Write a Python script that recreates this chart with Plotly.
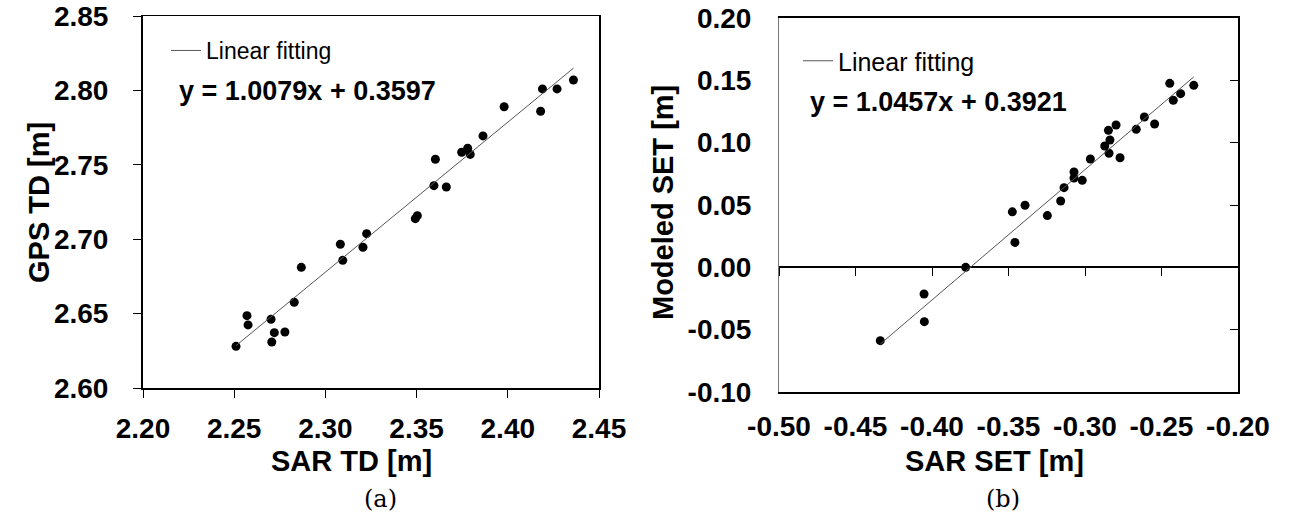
import plotly.graph_objects as go

# ---------------- data (a) ----------------
sar_td = [2.251, 2.2570, 2.2576, 2.2702, 2.2706, 2.2720, 2.2778, 2.2829, 2.2868,
          2.3082, 2.3095, 2.3206, 2.3226, 2.3493, 2.3504, 2.3595, 2.3603, 2.3663,
          2.3747, 2.3780, 2.3794, 2.3864, 2.3980, 2.4180, 2.4190, 2.4270, 2.4360]
gps_td = [2.628, 2.6486, 2.6424, 2.6462, 2.6309, 2.6372, 2.6376, 2.6576, 2.6811,
          2.6966, 2.6858, 2.6946, 2.7037, 2.7138, 2.7158, 2.7360, 2.7537, 2.7351,
          2.7584, 2.7611, 2.7570, 2.7694, 2.7890, 2.7860, 2.8010, 2.8010, 2.8070]
td_slope, td_intercept = 1.0079, 0.3597
td_xticks = [2.20, 2.25, 2.30, 2.35, 2.40, 2.45]
td_xtext = ["2.20", "2.25", "2.30", "2.35", "2.40", "2.45"]
td_yticks = [2.60, 2.65, 2.70, 2.75, 2.80, 2.85]
td_ytext = ["2.60", "2.65", "2.70", "2.75", "2.80", "2.85"]

# ---------------- data (b) ----------------
sar_set = [-0.4338, -0.4052, -0.4050, -0.3780, -0.3475, -0.3458, -0.3392, -0.3246,
           -0.3159, -0.3137, -0.3072, -0.3072, -0.3018, -0.2965, -0.2871, -0.2847,
           -0.2843, -0.2837, -0.2797, -0.2771, -0.2665, -0.2612, -0.2545, -0.2446,
           -0.2423, -0.2375, -0.2289]
model_set = [-0.0588, -0.0214, -0.0436, 0.0000, 0.0445, 0.0200, 0.0498, 0.0415,
             0.0532, 0.0639, 0.0765, 0.0717, 0.0698, 0.0869, 0.0973, 0.1099,
             0.0915, 0.1021, 0.1142, 0.0879, 0.1107, 0.1206, 0.1150, 0.1476,
             0.1340, 0.1393, 0.1460]
set_slope, set_intercept = 1.0457, 0.3921
set_xticks = [-0.50, -0.45, -0.40, -0.35, -0.30, -0.25, -0.20]
set_xtext = ["-0.50", "-0.45", "-0.40", "-0.35", "-0.30", "-0.25", "-0.20"]
set_yticks = [-0.10, -0.05, 0.00, 0.05, 0.10, 0.15, 0.20]
set_ytext = ["-0.10", "-0.05", "0.00", "0.05", "0.10", "0.15", "0.20"]

W, H = 1298, 527
def px(x): return x / W
def py(y): return 1 - y / H

BOLD = dict(family="Liberation Sans, Arial, sans-serif", size=28, color="black", weight="bold")
TITLE = dict(family="Liberation Sans, Arial, sans-serif", size=29, color="black", weight="bold")
EQ = dict(family="Liberation Sans, Arial, sans-serif", size=27, color="black", weight="bold")

fig = go.Figure()

# (a) points on main axes, fit line on overlay axes (which draw top/right borders)
fig.add_trace(go.Scatter(x=sar_td, y=gps_td, mode="markers",
                         marker=dict(color="black", size=9), showlegend=False,
                         xaxis="x", yaxis="y"))
tx = [min(sar_td), max(sar_td)]
fig.add_trace(go.Scatter(x=tx, y=[td_slope * v + td_intercept for v in tx], mode="lines",
                         line=dict(color="#555555", width=1), name="Linear fitting",
                         showlegend=True, legend="legend", xaxis="x3", yaxis="y3"))

# (b) points on main axes, fit line on overlay axes (zero-line ticks, right border)
fig.add_trace(go.Scatter(x=sar_set, y=model_set, mode="markers",
                         marker=dict(color="black", size=9), showlegend=False,
                         xaxis="x2", yaxis="y2"))
sx = [min(sar_set), max(sar_set)]
fig.add_trace(go.Scatter(x=sx, y=[set_slope * v + set_intercept for v in sx], mode="lines",
                         line=dict(color="#555555", width=1), name="Linear fitting",
                         showlegend=True, legend="legend2", xaxis="x4", yaxis="y4"))

dA_x = [px(143), px(599)]
dA_y = [py(388), py(16)]
dB_x = [px(779), px(1238)]
dB_y = [py(392), py(18)]
zero_pos = dB_y[0] + (dB_y[1] - dB_y[0]) * (0 - (-0.10)) / 0.30

fig.update_layout(
    template="none",
    width=W, height=H, autosize=False,
    margin=dict(l=0, r=0, t=0, b=0, pad=0),
    paper_bgcolor="white", plot_bgcolor="white",
    # ---- (a) ----
    xaxis=dict(domain=dA_x, anchor="y", range=[2.20, 2.45], tickvals=td_xticks, ticktext=td_xtext,
               ticks="outside", ticklen=8, tickwidth=1, tickcolor="black", automargin=False,
               showline=True, linecolor="black", linewidth=2, showgrid=False, zeroline=False,
               tickfont=BOLD, ticklabelstandoff=6),
    yaxis=dict(domain=dA_y, anchor="x", range=[2.60, 2.85], tickvals=td_yticks, ticktext=td_ytext,
               ticks="outside", ticklen=8, tickwidth=1, tickcolor="black", automargin=False,
               showline=True, linecolor="black", linewidth=2, showgrid=False, zeroline=False,
               tickfont=BOLD, ticklabelstandoff=19),
    xaxis3=dict(overlaying="x", anchor="y", side="top", range=[2.20, 2.45], showline=True,
                linecolor="black", linewidth=1, ticks="", showticklabels=False, automargin=False,
                showgrid=False, zeroline=False),
    yaxis3=dict(overlaying="y", anchor="x", side="right", range=[2.60, 2.85], showline=True,
                linecolor="black", linewidth=1.5, ticks="", showticklabels=False, automargin=False,
                showgrid=False, zeroline=False),
    # ---- (b) ----
    xaxis2=dict(domain=dB_x, anchor="y2", range=[-0.50, -0.20], tickvals=set_xticks, ticktext=set_xtext,
                ticks="", showline=True, linecolor="black", linewidth=1.5, mirror=True, automargin=False,
                showgrid=False, zeroline=False, tickfont=BOLD, ticklabelstandoff=9),
    yaxis2=dict(domain=dB_y, anchor="x2", range=[-0.10, 0.20], tickvals=set_yticks, ticktext=set_ytext,
                ticks="", showline=True, linecolor="#777777", linewidth=1, showgrid=False,
                zeroline=True, zerolinecolor="black", zerolinewidth=2, automargin=False,
                tickfont=BOLD, ticklabelstandoff=21),
    xaxis4=dict(overlaying="x2", anchor="free", position=zero_pos, range=[-0.50, -0.20],
                tickvals=set_xticks, ticks="outside", ticklen=8, tickwidth=1, tickcolor="black",
                showticklabels=False, showline=False, showgrid=False, zeroline=False, automargin=False),
    yaxis4=dict(overlaying="y2", anchor="x2", side="right", range=[-0.10, 0.20], tickvals=set_yticks,
                ticks="inside", ticklen=8, tickwidth=1, tickcolor="black", showticklabels=False,
                showline=True, linecolor="black", linewidth=2, showgrid=False, zeroline=False,
                automargin=False),
    legend=dict(x=px(166), y=py(29), xanchor="left", yanchor="top", bgcolor="rgba(0,0,0,0)",
                font=dict(family="Liberation Sans, Arial, sans-serif", size=23, color="black"),
                itemwidth=30, borderwidth=0, tracegroupgap=0),
    legend2=dict(x=px(798), y=py(38), xanchor="left", yanchor="top", bgcolor="rgba(0,0,0,0)",
                 font=dict(family="Liberation Sans, Arial, sans-serif", size=25, color="black"),
                 itemwidth=30, borderwidth=0, tracegroupgap=0),
)

ann = [
    dict(text="y = 1.0079x + 0.3597", x=px(177), y=py(91), xanchor="left", yanchor="middle", font=EQ),
    dict(text="y = 1.0457x + 0.3921", x=px(808), y=py(102), xanchor="left", yanchor="middle", font=EQ),
    dict(text="SAR TD [m]", x=px(351), y=py(461), xanchor="center", yanchor="middle", font=TITLE),
    dict(text="SAR SET [m]", x=px(994), y=py(461), xanchor="center", yanchor="middle", font=TITLE),
    dict(text="GPS TD [m]", x=px(39), y=py(203), xanchor="center", yanchor="middle", textangle=-90, font=TITLE),
    dict(text="Modeled SET [m]", x=px(663), y=py(203), xanchor="center", yanchor="middle", textangle=-90, font=TITLE),
    dict(text="(a)", x=px(380), y=py(499), xanchor="center", yanchor="middle",
         font=dict(family="DejaVu Serif, Liberation Serif, serif", size=24, color="black")),
    dict(text="(b)", x=px(1003), y=py(499), xanchor="center", yanchor="middle",
         font=dict(family="DejaVu Serif, Liberation Serif, serif", size=24, color="black")),
]
for a in ann:
    a.update(xref="paper", yref="paper", showarrow=False)
fig.update_layout(annotations=ann)

fig.write_html("out.html")
